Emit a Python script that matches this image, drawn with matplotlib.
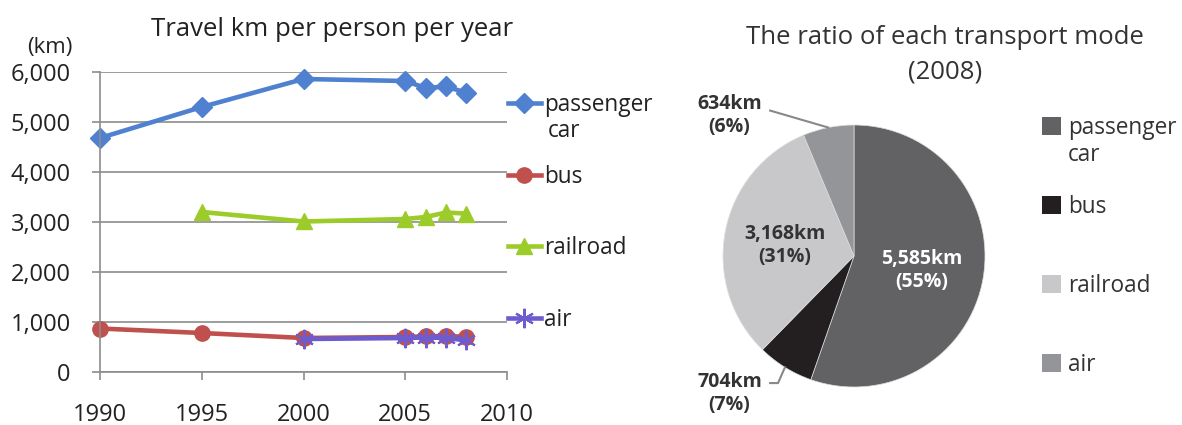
import numpy as np
import matplotlib.pyplot as plt
from matplotlib.patches import Patch
from matplotlib.lines import Line2D

plt.rcParams['font.family'] = ['Open Sans', 'DejaVu Sans']

years = [1990, 1995, 2000, 2005, 2006, 2007, 2008]
car = [4680, 5300, 5860, 5820, 5680, 5710, 5585]
bus = [870, 780, 680, 700, 715, 720, 704]
rail_years = [1995, 2000, 2005, 2006, 2007, 2008]
rail = [3200, 3010, 3060, 3100, 3190, 3168]
air_years = [2000, 2005, 2006, 2007, 2008]
air = [660, 680, 690, 680, 634]

modes = ['passenger', 'bus', 'railroad', 'air']
pie_vals = [5585, 704, 3168, 634]
pie_cols = ['#626265', '#231f20', '#c8c8ca', '#939598']

line_cols = ['#4f81d0', '#c0504d', '#9bcc2a', '#6d5bd0']

fig = plt.figure(figsize=(11.82, 4.25), dpi=100)
txt = '#222222'

# ---- line chart
ax = fig.add_axes([100/1182, 1-372/425, 407/1182, 300/425])
ax.plot(years, car, color=line_cols[0], lw=3.3, marker='D', ms=10, clip_on=False)
ax.plot(years, bus, color=line_cols[1], lw=3.3, marker='o', ms=11, clip_on=False)
ax.plot(rail_years, rail, color=line_cols[2], lw=3.3, marker='^', ms=12, clip_on=False)
ax.plot(air_years, air, color=line_cols[3], lw=3.3, marker=(6, 2, 0), ms=14, mew=1.5, clip_on=False)
ax.set_xlim(1990, 2010)
ax.set_ylim(0, 6000)
ax.set_xticks(range(1990, 2011, 5))
ax.set_yticks(range(0, 6001, 1000))
ax.set_yticklabels(['{:,}'.format(v) for v in range(0, 6001, 1000)])
ax.yaxis.grid(True, color='#8c8c8c', lw=1.2)
ax.set_axisbelow(True)
for s in ['top', 'right']:
    ax.spines[s].set_visible(False)
for s in ['left', 'bottom']:
    ax.spines[s].set_color('#8c8c8c')
    ax.spines[s].set_linewidth(1.2)
ax.tick_params(axis='both', colors='#8c8c8c', labelcolor=txt, labelsize=17, length=6, width=1.2)
ax.tick_params(axis='x', pad=16)
ax.tick_params(axis='y', pad=15)
ax.set_title('Travel km per person per year', fontsize=18.5, color=txt, x=0.57, pad=26)
fig.text(50/1182, 1-48/425, '(km)', fontsize=16, color=txt, ha='center', va='center')

handles = [
    Line2D([], [], color=line_cols[0], lw=3.3, marker='D', ms=10),
    Line2D([], [], color=line_cols[1], lw=3.3, marker='o', ms=11),
    Line2D([], [], color=line_cols[2], lw=3.3, marker='^', ms=12),
    Line2D([], [], color=line_cols[3], lw=3.3, marker=(6, 2, 0), ms=14, mew=1.5),
]
fig.legend(handles, modes, loc='upper left', bbox_to_anchor=(508/1182, 1-93/425),
           frameon=False, fontsize=16.3, handlelength=1.45, handletextpad=0.15,
           labelspacing=2.1, borderpad=0, borderaxespad=0, labelcolor=txt)
fig.text(548/1182, 1-131/425, 'car', fontsize=16.3, color=txt, va='center')

# ---- pie chart
pax = fig.add_axes([(854-131)/1182, 1-(256+131)/425, 262/1182, 262/425])
wedges, _ = pax.pie(pie_vals, colors=pie_cols, startangle=90, counterclock=False,
                    wedgeprops=dict(lw=0.5, edgecolor='#dddddd'))
pax.set_xlim(-1, 1)
pax.set_ylim(-1, 1)
pax.set_aspect('equal')

pc = '#333333'
lab = dict(fontsize=14, weight='bold', ha='center', va='center', linespacing=1.2)
pax.text(0.52, -0.11, '5,585km\n(55%)', color='white', **lab)
pax.text(-0.53, 0.08, '3,168km\n(31%)', color=pc, **lab)

# leader lines from wedge midpoints
def edge(w):
    a = np.deg2rad((w.theta1 + w.theta2) / 2)
    return np.cos(a), np.sin(a)

ex, ey = edge(wedges[3])
pax.plot([-0.64, ex], [1.11, ey], color='#888888', lw=1.5, clip_on=False)
pax.text(-0.95, 1.07, '634km\n(6%)', color=pc, **lab)
ex, ey = edge(wedges[1])
pax.plot([-0.64, -0.58, ex], [-0.97, -0.97, ey], color='#888888', lw=1.5, clip_on=False)
pax.text(-0.95, -1.05, '704km\n(7%)', color=pc, **lab)

fig.text(945/1182, 1-38/425, 'The ratio of each transport mode', fontsize=18.5,
         color=pc, ha='center', va='center')
fig.text(945/1182, 1-72/425, '(2008)', fontsize=18.5, color=pc, ha='center', va='center')

phandles = [Patch(facecolor=c) for c in pie_cols]
fig.legend(phandles, modes, loc='upper left', bbox_to_anchor=(1042/1182, 1-116/425),
           frameon=False, fontsize=16.3, handlelength=0.85, handleheight=0.85,
           handletextpad=0.3, labelspacing=2.43, borderpad=0, borderaxespad=0, labelcolor=pc)
fig.text(1068/1182, 1-155/425, 'car', fontsize=16.3, color=pc, va='center')

fig.savefig('out.png', dpi=100, facecolor='white')
